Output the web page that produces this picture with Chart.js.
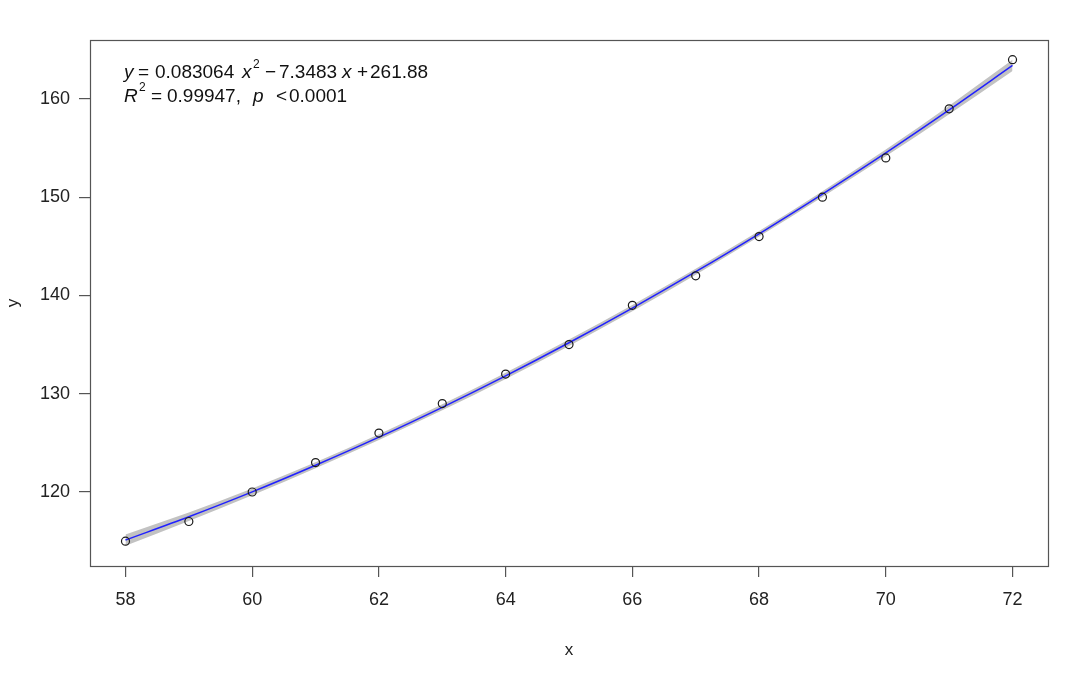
<!DOCTYPE html>
<html>
<head>
<meta charset="utf-8">
<script src="https://cdn.jsdelivr.net/npm/chart.js@4"></script>
<style>
html,body{margin:0;padding:0;background:#fff;}
#wrap{width:1080px;height:674px;}
</style>
</head>
<body>
<div id="wrap"><canvas id="c" width="1080" height="674"></canvas></div>
<script>
// Data (women dataset: height vs weight)
const xValues = [58,59,60,61,62,63,64,65,66,67,68,69,70,71,72];
const yValues = [115,117,120,123,126,129,132,135,139,142,146,150,154,159,164];
// Fitted quadratic values
const fitValues = [115.11,117.48,120.01,122.72,125.58,128.62,131.82,135.19,138.72,142.42,146.28,150.32,154.51,158.88,163.41];
// Confidence band (grey ribbon)
const bandLower = [114.54,117.05,119.67,122.42,125.29,128.31,131.50,134.86,138.40,142.11,145.99,150.02,154.17,158.45,162.84];
const bandUpper = [115.68,117.91,120.35,123.02,125.87,128.93,132.14,135.52,139.04,142.73,146.57,150.62,154.85,159.31,163.98];
const xTicks = [58,60,62,64,66,68,70,72];
const yTicks = [120,130,140,150,160];
const xRange = [57.44, 72.56];
const yRange = [112.47, 166.0];

const FONT = '"Liberation Sans", Arial, sans-serif';
const pts = (ys) => xValues.map((x,i)=>({x:x, y:ys[i]}));

const framePlugin = {
  id:'frame',
  afterDraw(chart){
    const {ctx, chartArea:a} = chart;
    ctx.save();
    ctx.strokeStyle = '#555';
    ctx.lineWidth = 1.2;
    ctx.strokeRect(Math.round(a.left)+0.5, Math.round(a.top)+0.5, Math.round(a.right-a.left), Math.round(a.bottom-a.top));
    // axis titles
    ctx.fillStyle = '#222';
    ctx.font = '17px ' + FONT;
    ctx.textAlign = 'center';
    ctx.textBaseline = 'middle';
    ctx.fillText('x', (a.left + a.right)/2, 650);
    ctx.translate(13, (a.top + a.bottom)/2);
    ctx.rotate(-Math.PI/2);
    ctx.fillText('y', 0, 0);
    ctx.restore();

    // equation annotation (pieces placed like R plotmath spacing)
    ctx.save();
    ctx.fillStyle = '#111';
    ctx.textBaseline = 'alphabetic';
    ctx.textAlign = 'left';
    const reg = '19px ' + FONT, ita = 'italic 19px ' + FONT, sup = '12px ' + FONT;
    function put(items, y0, supY){
      for (const it of items){
        ctx.font = it.f;
        ctx.fillText(it.t, it.x, it.sup ? supY : y0);
      }
    }
    put([
      {t:'y', f:ita, x:124},{t:'=', f:reg, x:138},{t:'0.083064', f:reg, x:155},
      {t:'x', f:ita, x:242},{t:'2', f:sup, sup:true, x:253},{t:'\u2212', f:reg, x:265},
      {t:'7.3483', f:reg, x:279},{t:'x', f:ita, x:342},{t:'+', f:reg, x:357},{t:'261.88', f:reg, x:370}
    ], 78, 68);
    put([
      {t:'R', f:ita, x:124},{t:'2', f:sup, sup:true, x:139},{t:'=', f:reg, x:151},
      {t:'0.99947,', f:reg, x:167},{t:'p', f:ita, x:253},{t:'<', f:reg, x:276},{t:'0.0001', f:reg, x:289}
    ], 102, 91);
    ctx.restore();
  }
};

new Chart(document.getElementById('c'), {
  type:'scatter',
  data:{
    datasets:[
      {label:'lower', data:pts(bandLower), showLine:true, borderColor:'rgba(0,0,0,0)', borderWidth:0, pointRadius:0, fill:false, tension:0.4, cubicInterpolationMode:'monotone', order:4},
      {label:'upper', data:pts(bandUpper), showLine:true, borderColor:'rgba(0,0,0,0)', borderWidth:0, pointRadius:0, fill:'-1', backgroundColor:'#c2c2c2', tension:0.4, cubicInterpolationMode:'monotone', order:3},
      {label:'fit', data:pts(fitValues), showLine:true, borderColor:'#2020ff', borderWidth:1.5, pointRadius:0, fill:false, cubicInterpolationMode:'monotone', order:2},
      {label:'obs', data:pts(yValues), showLine:false, pointRadius:4, pointBorderWidth:1.2, pointBorderColor:'#1a1a1a', pointBackgroundColor:'rgba(0,0,0,0)', order:1}
    ]
  },
  options:{
    responsive:false,
    animation:false,
    events:[],
    layout:{padding:{top:40, right:32, left:0, bottom:0}},
    plugins:{legend:{display:false}, tooltip:{enabled:false}},
    scales:{
      x:{
        type:'linear', min:xRange[0], max:xRange[1],
        afterBuildTicks(s){ s.ticks = xTicks.map(v=>({value:v})); },
        afterFit(s){ s.height = 108; },
        grid:{drawOnChartArea:false, drawTicks:true, tickLength:11, color:'#555', tickColor:'#555', lineWidth:1.2},
        border:{display:false},
        ticks:{font:{family:FONT, size:18}, color:'#222', padding:12, maxRotation:0, autoSkip:false}
      },
      y:{
        type:'linear', min:yRange[0], max:yRange[1],
        afterBuildTicks(s){ s.ticks = yTicks.map(v=>({value:v})); },
        afterFit(s){ s.width = 90; },
        grid:{drawOnChartArea:false, drawTicks:true, tickLength:11, color:'#555', tickColor:'#555', lineWidth:1.2},
        border:{display:false},
        ticks:{font:{family:FONT, size:18}, color:'#222', padding:9, autoSkip:false}
      }
    }
  },
  plugins:[framePlugin]
});
</script>
</body>
</html>
